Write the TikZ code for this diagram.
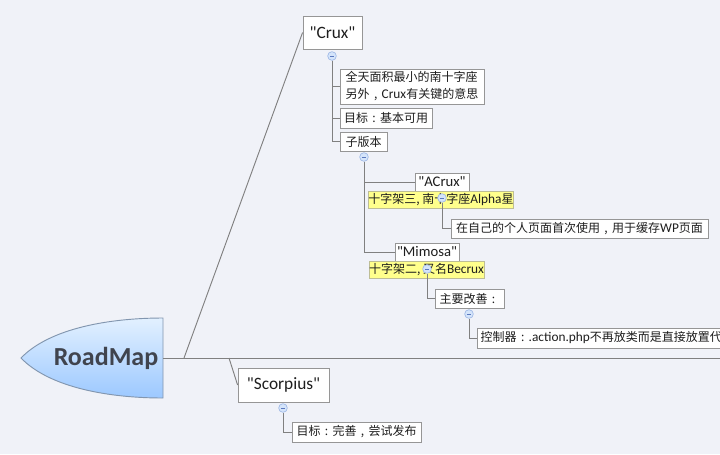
\documentclass[tikz,border=0pt]{standalone}
\usepackage{fontspec}
\setmainfont{Carlito}
\newfontfamily\cjk{Noto Sans CJK SC}
\newfontfamily\plainlat{Carlito}
\newcommand{\qq}{{\plainlat\symbol{34}}}
\newcommand{\fcolon}{\makebox[1em][c]{:}}
\newcommand{\fcomma}{\makebox[1em][c]{,}}
\definecolor{bgc}{RGB}{240,242,248}
\definecolor{linec}{RGB}{128,128,128}
\definecolor{boxc}{RGB}{150,150,150}
\definecolor{yelf}{RGB}{255,255,140}
\definecolor{yeld}{RGB}{190,190,150}
\definecolor{txt}{RGB}{30,30,30}
\definecolor{minf}{RGB}{212,228,250}
\definecolor{mind}{RGB}{160,185,230}
\definecolor{minl}{RGB}{90,120,190}
\definecolor{rootd}{RGB}{130,150,175}
\definecolor{roott}{RGB}{64,68,78}
\tikzset{
  conn/.style={draw=linec, line width=0.7pt},
  tbox/.style={draw=boxc, fill=white, inner sep=0pt, text=txt, line width=0.6pt},
  ybox/.style={draw=yeld, fill=yelf, inner sep=0pt, text=txt, line width=0.6pt},
  cfont/.style={font=\cjk\fontsize{9}{11}\selectfont},
  minus/.style={circle, draw=mind, fill=minf, minimum size=6.5pt, inner sep=0pt, line width=0.5pt,
    path picture={\draw[minl, line width=0.5pt] ([xshift=-1.6pt]path picture bounding box.center) -- ([xshift=1.6pt]path picture bounding box.center);}},
}
\begin{document}
\begin{tikzpicture}[x=0.75pt,y=-0.75pt]
\useasboundingbox (0,0) rectangle (720,454);
\fill[bgc] (0,0) rectangle (720,454);
\clip (0,0) rectangle (720,454);

% root shape
\shade[top color={rgb,255:red,226;green,240;blue,255}, bottom color={rgb,255:red,156;green,200;blue,255}, draw=rootd, line width=0.7pt]
  (163,318) -- (163,398) .. controls (110,398) and (50,388) .. (21,358)
  .. controls (50,328) and (110,318) .. (163,318) -- cycle;
\node[text=roott, font=\bfseries\fontsize{19.5}{22}\selectfont] (root) at (106,358) {RoadMap};
\coordinate (rootE) at (163,358);
\coordinate (rend) at (725,358);
\coordinate (j1) at (184,358);
\coordinate (j2) at (229,358);

% Crux branch
\node[tbox, minimum width=44.25pt, minimum height=24.75pt, font=\fontsize{13}{15}\selectfont] (crux) at (332.5,32.5) {\qq Crux\qq};
\node[tbox, minimum width=108pt, minimum height=26.25pt, align=left, font=\cjk\fontsize{9}{12.75}\selectfont] (b1) at (412,86.5)
  {全天面积最小的南十字座\\另外\fcomma{\fontspec{Carlito}\fontsize{10}{12}\selectfont Crux}有关键的意思};
\node[tbox, cfont, minimum width=69pt, minimum height=15pt] (b2) at (386,118) {目标\fcolon 基本可用};
\node[tbox, cfont, minimum width=35.25pt, minimum height=14.25pt] (b3) at (363.5,141.5) {子版本};

\node[tbox, minimum width=40.5pt, minimum height=13.5pt, font=\fontsize{11}{13}\selectfont] (acrux) at (442,182) {\qq ACrux\qq};
\node[ybox, cfont, minimum width=106.5pt, minimum height=12.75pt] (yA) at (441,199.5) {十字架三, 南十字座{\fontspec{Carlito}\fontsize{10}{12}\selectfont Alpha}星};
\node[tbox, cfont, minimum width=192.75pt, minimum height=14.25pt] (cA) at (579.5,228.5) {在自己的个人页面首次使用\fcomma 用于缓存{\fontspec{Carlito}\fontsize{10}{12}\selectfont WP}页面};

\node[tbox, minimum width=48pt, minimum height=13.5pt, font=\fontsize{11}{13}\selectfont] (mimosa) at (427,252) {\qq Mimosa\qq};
\node[ybox, cfont, minimum width=84.75pt, minimum height=12.75pt] (yM) at (426.5,269.5) {十字架二, 又名{\fontspec{Carlito}\fontsize{10}{12}\selectfont Becrux}};
\node[tbox, cfont, minimum width=51.75pt, minimum height=14.25pt] (imp) at (469.5,298.5) {主要改善\fcolon};
\node[tbox, cfont, anchor=west, minimum height=15pt, text width=222pt, align=left, inner xsep=2.5pt] (ctrl) at (477,338)
  {控制器\fcolon{\fontspec{Carlito}\fontsize{10}{12}\selectfont .action.php}不再放类而是直接放置代};

% Scorpius branch
\node[tbox, minimum width=68.25pt, minimum height=25.5pt, font=\fontsize{13}{15}\selectfont] (scorp) at (283.5,385) {\qq Scorpius\qq};
\node[tbox, cfont, minimum width=96.75pt, minimum height=15pt] (sgoal) at (356.5,432) {目标\fcolon 完善\fcomma 尝试发布};

% minus markers
\node[minus] (mC) at (332,56) {};
\node[minus] (m3) at (364,157) {};
\node[minus] (mA) at (442,198) {};
\node[minus] (mM) at (427,269) {};
\node[minus] (mI) at (469,314) {};
\node[minus] (mS) at (283,408) {};

% connectors
\draw[conn] (rootE) -- (rend);
\draw[conn] (j1) -- (crux.west);
\draw[conn] (j2) -- (scorp.west);
\draw[conn] (mC.south) |- (b1.west);
\draw[conn] (mC.south) |- (b2.west);
\draw[conn] (mC.south) |- (b3.west);
\draw[conn] (m3.south) |- (acrux.west);
\draw[conn] (m3.south) |- (mimosa.west);
\draw[conn] (mA.south) |- (cA.west);
\draw[conn] (mM.south) |- (imp.west);
\draw[conn] (mI.south) |- (ctrl.west);
\draw[conn] (mS.south) |- (sgoal.west);
\end{tikzpicture}
\end{document}
